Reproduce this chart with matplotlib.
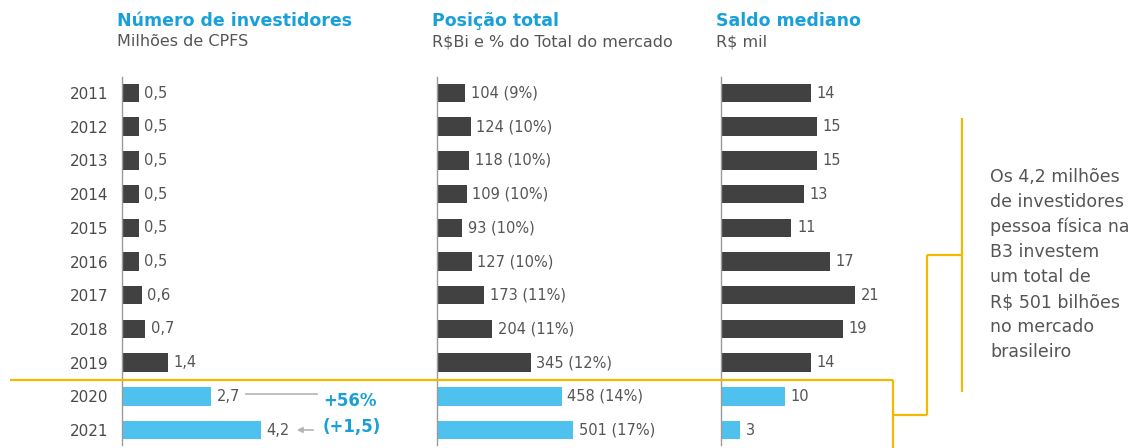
import matplotlib
matplotlib.use("Agg")
import matplotlib.pyplot as plt
from matplotlib.lines import Line2D
from matplotlib.patches import FancyArrowPatch

years = ["2011", "2012", "2013", "2014", "2015", "2016", "2017", "2018", "2019", "2020", "2021"]
investidores = [0.5, 0.5, 0.5, 0.5, 0.5, 0.5, 0.6, 0.7, 1.4, 2.7, 4.2]
posicao = [104, 124, 118, 109, 93, 127, 173, 204, 345, 458, 501]
posicao_pct = [9, 10, 10, 10, 10, 10, 11, 11, 12, 14, 17]
saldo = [14, 15, 15, 13, 11, 17, 21, 19, 14, 10, 3]
highlight_years = ["2020", "2021"]

titles = ["Número de investidores", "Posição total", "Saldo mediano"]
subtitles = ["Milhões de CPFS", "R$Bi e % do Total do mercado", "R$ mil"]
side_text = ("Os 4,2 milhões\nde investidores\npessoa física na\nB3 investem\n"
             "um total de\nR$ 501 bilhões\nno mercado\nbrasileiro")

plt.rcParams['font.family'] = ['DejaVu Sans']

W, H = 1137, 448
fig = plt.figure(figsize=(W / 100, H / 100), dpi=100)

DARK = "#414141"
BLUE = "#4fc1ef"
TITLE_BLUE = "#1aa0d8"
GRAY = "#555555"
YELLOW = "#f5b800"


def fx(x):
    return x / W


def fy(y):
    return 1 - y / H


def add_ax(left, width, top=77, bottom=445):
    return fig.add_axes([fx(left), fy(bottom), width / W, (bottom - top) / H])


row_px = 33.7
y0 = 93
ylim_top = (77 - y0) / row_px
ylim_bot = (445 - y0) / row_px

panels = [
    (122, 200, 200 / 33.0, investidores, [f"{v:.1f}".replace(".", ",") for v in investidores]),
    (437, 200, 200 / 0.272, posicao, [f"{v} ({p}%)" for v, p in zip(posicao, posicao_pct)]),
    (721, 160, 160 / 6.4, saldo, [str(v) for v in saldo]),
]

axes = []
for i, (left, width, xmax, vals, labels) in enumerate(panels):
    ax = add_ax(left, width)
    axes.append(ax)
    ypos = list(range(len(years)))
    colors = [BLUE if y in highlight_years else DARK for y in years]
    ax.barh(ypos, vals, height=0.55, color=colors)
    ax.set_xlim(0, xmax)
    ax.set_ylim(ylim_bot, ylim_top)
    for s in ["top", "right", "bottom"]:
        ax.spines[s].set_visible(False)
    ax.spines["left"].set_color("#9a9a9a")
    ax.spines["left"].set_linewidth(1.0)
    ax.set_xticks([])
    ax.tick_params(axis="y", length=0, pad=10)
    if i == 0:
        ax.set_yticks(ypos)
        ax.set_yticklabels(years, fontsize=11, color="#4a4a4a")
    else:
        ax.set_yticks([])
    ax.patch.set_alpha(0)
    for yp, v, lab in zip(ypos, vals, labels):
        ax.annotate(lab, (v, yp), xytext=(4, 0), textcoords="offset points",
                    va="center", ha="left", fontsize=10.5, color=GRAY)
    # titles
    fig.text(fx(left - 5), fy(21), titles[i], fontsize=12.5, fontweight="bold",
             color=TITLE_BLUE, ha="left", va="center")
    fig.text(fx(left - 5), fy(42), subtitles[i], fontsize=11.5, color=GRAY,
             ha="left", va="center")

# annotation in panel 1
fig.add_artist(Line2D([fx(246), fx(317)], [fy(394), fy(394)], color="#b5b5b5", lw=1.2))
fig.text(fx(323), fy(401), "+56%", fontsize=12, fontweight="bold", color=TITLE_BLUE,
         ha="left", va="center")
fig.text(fx(323), fy(427), "(+1,5)", fontsize=12, fontweight="bold", color=TITLE_BLUE,
         ha="left", va="center")
fig.add_artist(FancyArrowPatch(
    (fx(316), fy(430)), (fx(294), fy(430)), transform=fig.transFigure,
    arrowstyle="-|>", mutation_scale=8, color="#b5b5b5", lw=1.2))

# yellow bracket lines
segs = [
    ([10, 893], [380, 380]),
    ([893, 893], [380, 448]),
    ([893, 927], [415, 415]),
    ([927, 927], [415, 255]),
    ([927, 962], [255, 255]),
    ([962, 962], [118, 392]),
]
for xs, ys in segs:
    fig.add_artist(Line2D([fx(x) for x in xs], [fy(y) for y in ys], color=YELLOW, lw=1.6,
                          solid_capstyle="butt"))

fig.text(fx(990), fy(168), side_text, fontsize=12.5, color=GRAY, ha="left", va="top",
         linespacing=1.49)

fig.savefig("out.png", dpi=100)
